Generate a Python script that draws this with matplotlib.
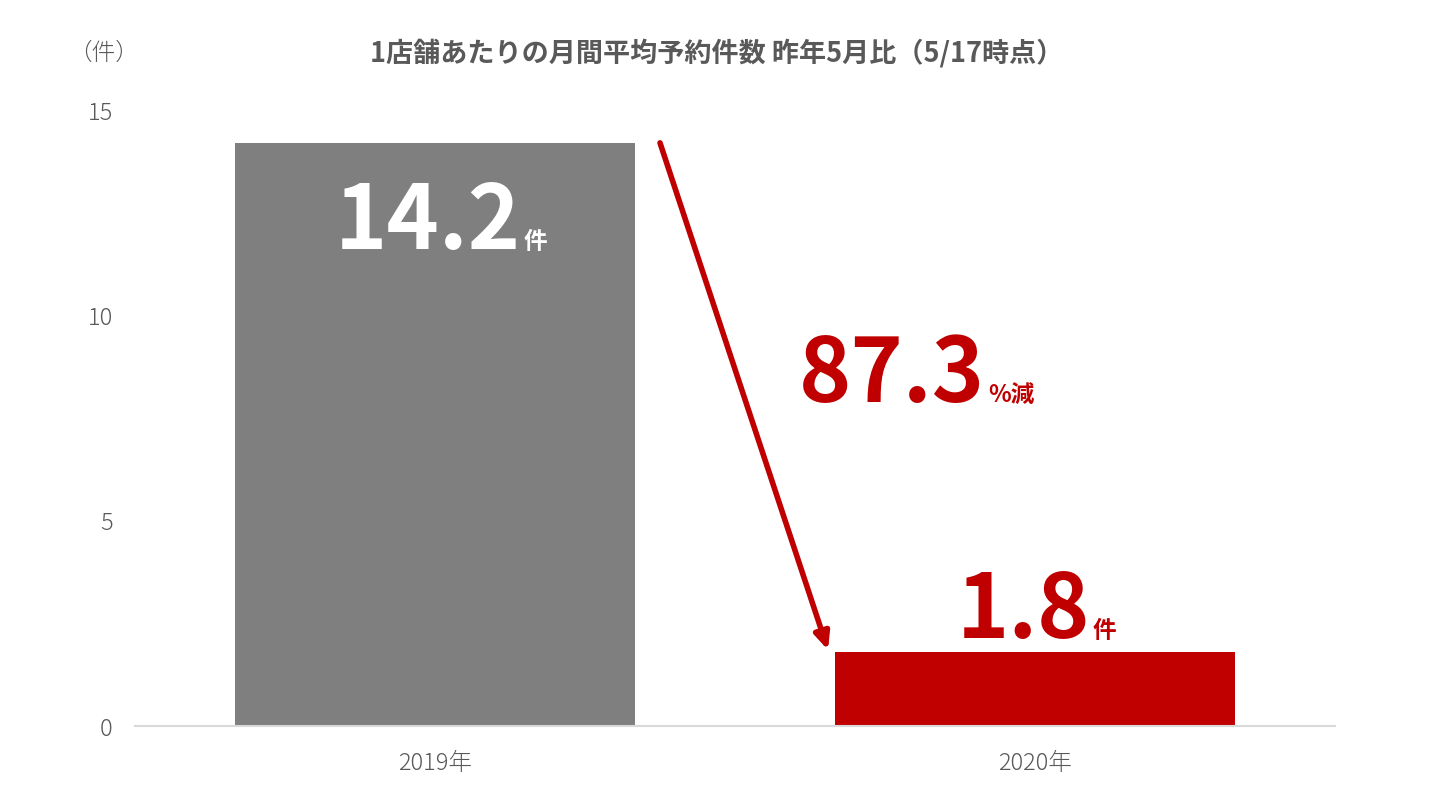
import matplotlib
matplotlib.use("Agg")
import matplotlib.pyplot as plt

plt.rcParams['font.family'] = ['Noto Sans CJK JP', 'DejaVu Sans']

categories = ["2019年", "2020年"]
values = [14.2, 1.8]
bar_colors = ["#7f7f7f", "#c00000"]
yticks = [0, 5, 10, 15]
title = "1店舗あたりの月間平均予約件数 昨年5月比（5/17時点）"
unit_label = "（件）"
unit = "件"
decrease_suffix = "%減"

GRAY_TEXT = "#595959"
RED = "#c00000"

fig = plt.figure(figsize=(14.4, 8.1), dpi=100)
ax = fig.add_axes([135/1440, 84/810, 1200/1440, 616/810])

x = list(range(len(categories)))
ax.bar(x, values, width=0.667, color=bar_colors, zorder=2)
ax.set_xlim(-0.5, 1.5)
ax.set_ylim(0, 15)
ax.set_yticks(yticks)
ax.set_yticklabels([str(t) for t in yticks])
ax.set_xticks(x)
ax.set_xticklabels(categories)
for s in ["top", "right", "left"]:
    ax.spines[s].set_visible(False)
ax.spines["bottom"].set_color("#d9d9d9")
ax.spines["bottom"].set_linewidth(1.5)
ax.tick_params(axis="both", length=0, labelsize=17, colors=GRAY_TEXT)
ax.tick_params(axis="y", pad=16)
ax.tick_params(axis="x", pad=18)
for lab in ax.get_xticklabels() + ax.get_yticklabels():
    lab.set_fontweight("light")

# Title and unit label
fig.text(717/1440, 1 - 53/810, title, ha="center", va="center",
         fontsize=19.5, fontweight="bold", color=GRAY_TEXT)
fig.text(104/1440, 1 - 53/810, unit_label, ha="center", va="center",
         fontsize=17, color=GRAY_TEXT, fontweight="light")

BIG = 64
SMALL = 17

# Value labels
ax.annotate(f"{values[0]:.1f}", xy=(x[0], values[0]), xytext=(86, -106),
            textcoords="offset pixels", ha="right", va="baseline",
            fontsize=BIG, fontweight="bold", color="white", zorder=3)
ax.annotate(unit, xy=(x[0], values[0]), xytext=(89, -106),
            textcoords="offset pixels", ha="left", va="baseline",
            fontsize=SMALL, fontweight="bold", color="white", zorder=3)

ax.annotate(f"{values[1]:.1f}", xy=(x[1], values[1]), xytext=(55, 14),
            textcoords="offset pixels", ha="right", va="baseline",
            fontsize=BIG, fontweight="bold", color=RED, zorder=3)
ax.annotate(unit, xy=(x[1], values[1]), xytext=(58, 14),
            textcoords="offset pixels", ha="left", va="baseline",
            fontsize=SMALL, fontweight="bold", color=RED, zorder=3)

# Decrease annotation
pct = (1 - values[1] / values[0]) * 100
ax.annotate(f"{pct:.1f}", xy=(985/1440, 1 - 402/810), xycoords="figure fraction",
            ha="right", va="baseline", fontsize=BIG, fontweight="bold", color=RED)
ax.annotate(decrease_suffix, xy=(988/1440, 1 - 402/810), xycoords="figure fraction",
            ha="left", va="baseline", fontsize=SMALL, fontweight="bold", color=RED)

# Arrow
ax.annotate("", xy=(0.655, values[1] + 0.05), xytext=(0.375, values[0]),
            arrowprops=dict(arrowstyle="-|>,head_length=1.0,head_width=0.45",
                            color=RED, lw=4, shrinkA=0, shrinkB=0),
            zorder=4)

fig.savefig("out.png", dpi=100, facecolor="white")
